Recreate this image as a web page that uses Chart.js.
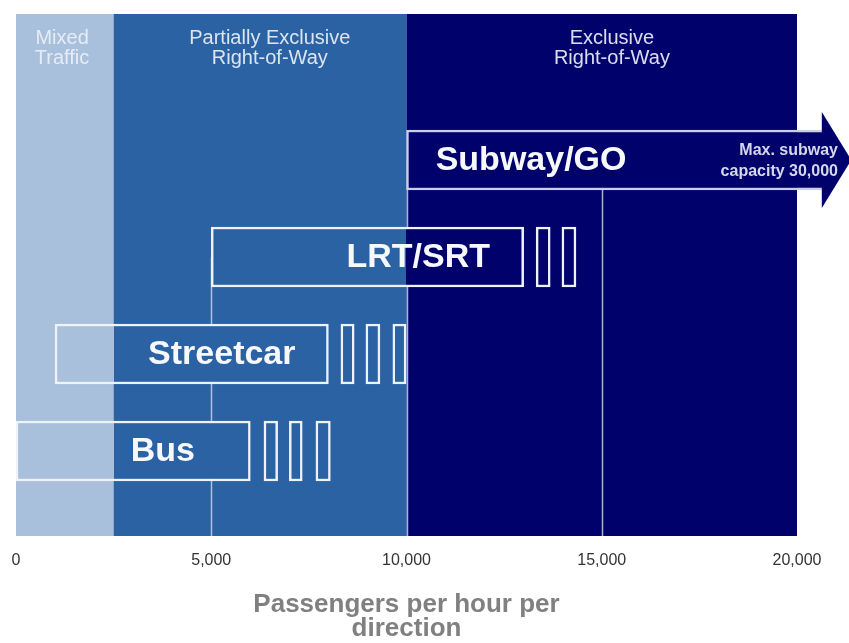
<!DOCTYPE html>
<html><head><meta charset="utf-8">
<script src="https://cdn.jsdelivr.net/npm/chart.js@4/dist/chart.umd.min.js"></script>
<style>html,body{margin:0;padding:0;background:#fff}#wrap{width:849px;height:643px}</style>
</head><body><div id="wrap"><canvas id="c" width="849" height="643"></canvas></div>
<script>
// ---- data ----
const modes = ['Subway/GO', 'LRT/SRT', 'Streetcar', 'Bus'];
const modeRows = [1, 2, 3, 4];
const modeStart = [10000, 5000, 1000, 0];
const modeEnd = [20700, 13000, 8000, 6000];
const modeLabelX = [13190, 10300, 5270, 3760];
const incRows = [2, 2, 3, 3, 3, 4, 4, 4];
const incStart = [13320, 13980, 8320, 8960, 9650, 6350, 7000, 7680];
const incEnd = [13680, 14340, 8660, 9320, 9990, 6700, 7330, 8050];
const bandNames = [['Mixed', 'Traffic'], ['Partially Exclusive', 'Right-of-Way'], ['Exclusive', 'Right-of-Way']];
const bandStart = [0, 2500, 10000];
const bandEnd = [2500, 10000, 20000];
const bandLabelX = [1180, 6500, 15260];
const dropLineX = [5000, 10000, 15000];
const dropLineFromRow = [2, 1, 1];
const xTicks = [0, 5000, 10000, 15000, 20000];
const noteLines = ['Max. subway', 'capacity 30,000'];
const noteRightX = 21050;
const axisTitle = ['Passengers per hour per', 'direction'];

// ---- styles ----
const bandColors = ['#a8c0db', '#2a62a4', '#01016c'];
const FONT = '"Liberation Sans", Arial, Helvetica, sans-serif';

function bandGradient(ctx) {
  const chart = ctx.chart;
  const xs = chart.scales.x;
  if (!chart.chartArea || !xs) return 'transparent';
  const p0 = xs.getPixelForValue(xs.min), p1 = xs.getPixelForValue(xs.max);
  const g = chart.ctx.createLinearGradient(p0, 0, p1, 0);
  const span = xs.max - xs.min;
  bandStart.forEach((s, i) => {
    g.addColorStop(Math.max(0, Math.min(1, (s - xs.min) / span)), bandColors[i]);
    g.addColorStop(Math.max(0, Math.min(1, (bandEnd[i] - xs.min) / span)), bandColors[i]);
  });
  return g;
}

const backdrop = {
  id: 'backdrop',
  beforeDatasetsDraw(chart) {
    const {ctx, chartArea: ca, scales: {x, y}} = chart;
    ctx.save();
    bandStart.forEach((s, i) => {
      const a = x.getPixelForValue(s), b = x.getPixelForValue(bandEnd[i]);
      ctx.fillStyle = bandColors[i];
      ctx.fillRect(a, ca.top, b - a, ca.bottom - ca.top);
    });
    ctx.strokeStyle = 'rgba(196,210,236,0.85)';
    ctx.lineWidth = 1.5;
    dropLineX.forEach((v, i) => {
      const px = Math.round(x.getPixelForValue(v)) + 0.5;
      ctx.beginPath();
      ctx.moveTo(px, y.getPixelForValue(dropLineFromRow[i]));
      ctx.lineTo(px, ca.bottom);
      ctx.stroke();
    });
    ctx.fillStyle = 'rgba(236,240,247,0.92)';
    ctx.font = '20px ' + FONT;
    ctx.textAlign = 'center';
    ctx.textBaseline = 'alphabetic';
    bandNames.forEach((lines, i) => {
      const px = x.getPixelForValue(bandLabelX[i]);
      lines.forEach((t, j) => ctx.fillText(t, px, ca.top + 30 + j * 20));
    });
    ctx.restore();
  },
  afterDatasetsDraw(chart) {
    const {ctx, scales: {x, y}} = chart;
    const el = chart.getDatasetMeta(0).data[0];
    const h = el.height;
    ctx.save();
    // arrow head on the subway bar
    ctx.fillStyle = bandColors[2];
    ctx.beginPath();
    ctx.moveTo(el.x - 2.5, el.y - h * 0.4 + 2);
    ctx.lineTo(el.x - 2.5, el.y - h * 0.8);
    ctx.lineTo(el.x + h * 0.45, el.y);
    ctx.lineTo(el.x - 2.5, el.y + h * 0.8);
    ctx.lineTo(el.x - 2.5, el.y + h * 0.4 - 2);
    ctx.closePath();
    ctx.fill();
    // mode labels
    ctx.fillStyle = '#f6f8fc';
    ctx.font = 'bold 34px ' + FONT;
    ctx.textAlign = 'center';
    ctx.textBaseline = 'middle';
    modes.forEach((m, i) => ctx.fillText(m, x.getPixelForValue(modeLabelX[i]), y.getPixelForValue(modeRows[i]) + 1));
    // note
    ctx.fillStyle = '#d4d8e8';
    ctx.font = 'bold 16px ' + FONT;
    ctx.textAlign = 'right';
    const ny = y.getPixelForValue(modeRows[0]);
    noteLines.forEach((t, j) => ctx.fillText(t, x.getPixelForValue(noteRightX), ny - 9 + j * 21));
    ctx.restore();
  }
};

new Chart(document.getElementById('c'), {
  type: 'bar',
  data: {
    datasets: [
      {
        data: modes.map((m, i) => ({x: [modeStart[i], modeEnd[i]], y: modeRows[i]})),
        backgroundColor: bandGradient,
        borderColor: ['#c9cfe4', '#eef2f9', '#eef2f9', '#eef2f9'],
        borderWidth: 2.5,
        borderSkipped: false,
        clip: false
      },
      {
        data: incRows.map((r, i) => ({x: [incStart[i], incEnd[i]], y: r})),
        backgroundColor: bandGradient,
        borderColor: '#eef2f9',
        borderWidth: 2.5,
        borderSkipped: false
      }
    ]
  },
  options: {
    indexAxis: 'y',
    responsive: false,
    devicePixelRatio: 1,
    animation: false,
    datasets: {bar: {grouped: false, barThickness: 60}},
    layout: {padding: {left: 16, right: 52, top: 14, bottom: 2}},
    plugins: {legend: {display: false}, tooltip: {enabled: false}},
    scales: {
      x: {
        type: 'linear', min: 0, max: 20000,
        afterBuildTicks: (s) => { s.ticks = xTicks.map(v => ({value: v})); },
        afterFit: (s) => { s.height = 105; s.paddingLeft = 0; s.paddingRight = 0; },
        grid: {display: false, drawTicks: false},
        border: {display: false},
        ticks: {
          padding: 15, color: '#333', maxRotation: 0,
          font: {family: FONT, size: 16},
          callback: (v) => Number(v).toLocaleString('en-US')
        },
        title: {
          display: true, text: axisTitle, color: '#808080',
          font: {family: FONT, size: 26, weight: 'bold', lineHeight: 0.92},
          padding: {top: 0, bottom: 0}
        }
      },
      y: {type: 'linear', reverse: true, offset: false, min: -0.505, max: 4.876, display: false}
    }
  },
  plugins: [backdrop]
});
</script>
</body></html>
